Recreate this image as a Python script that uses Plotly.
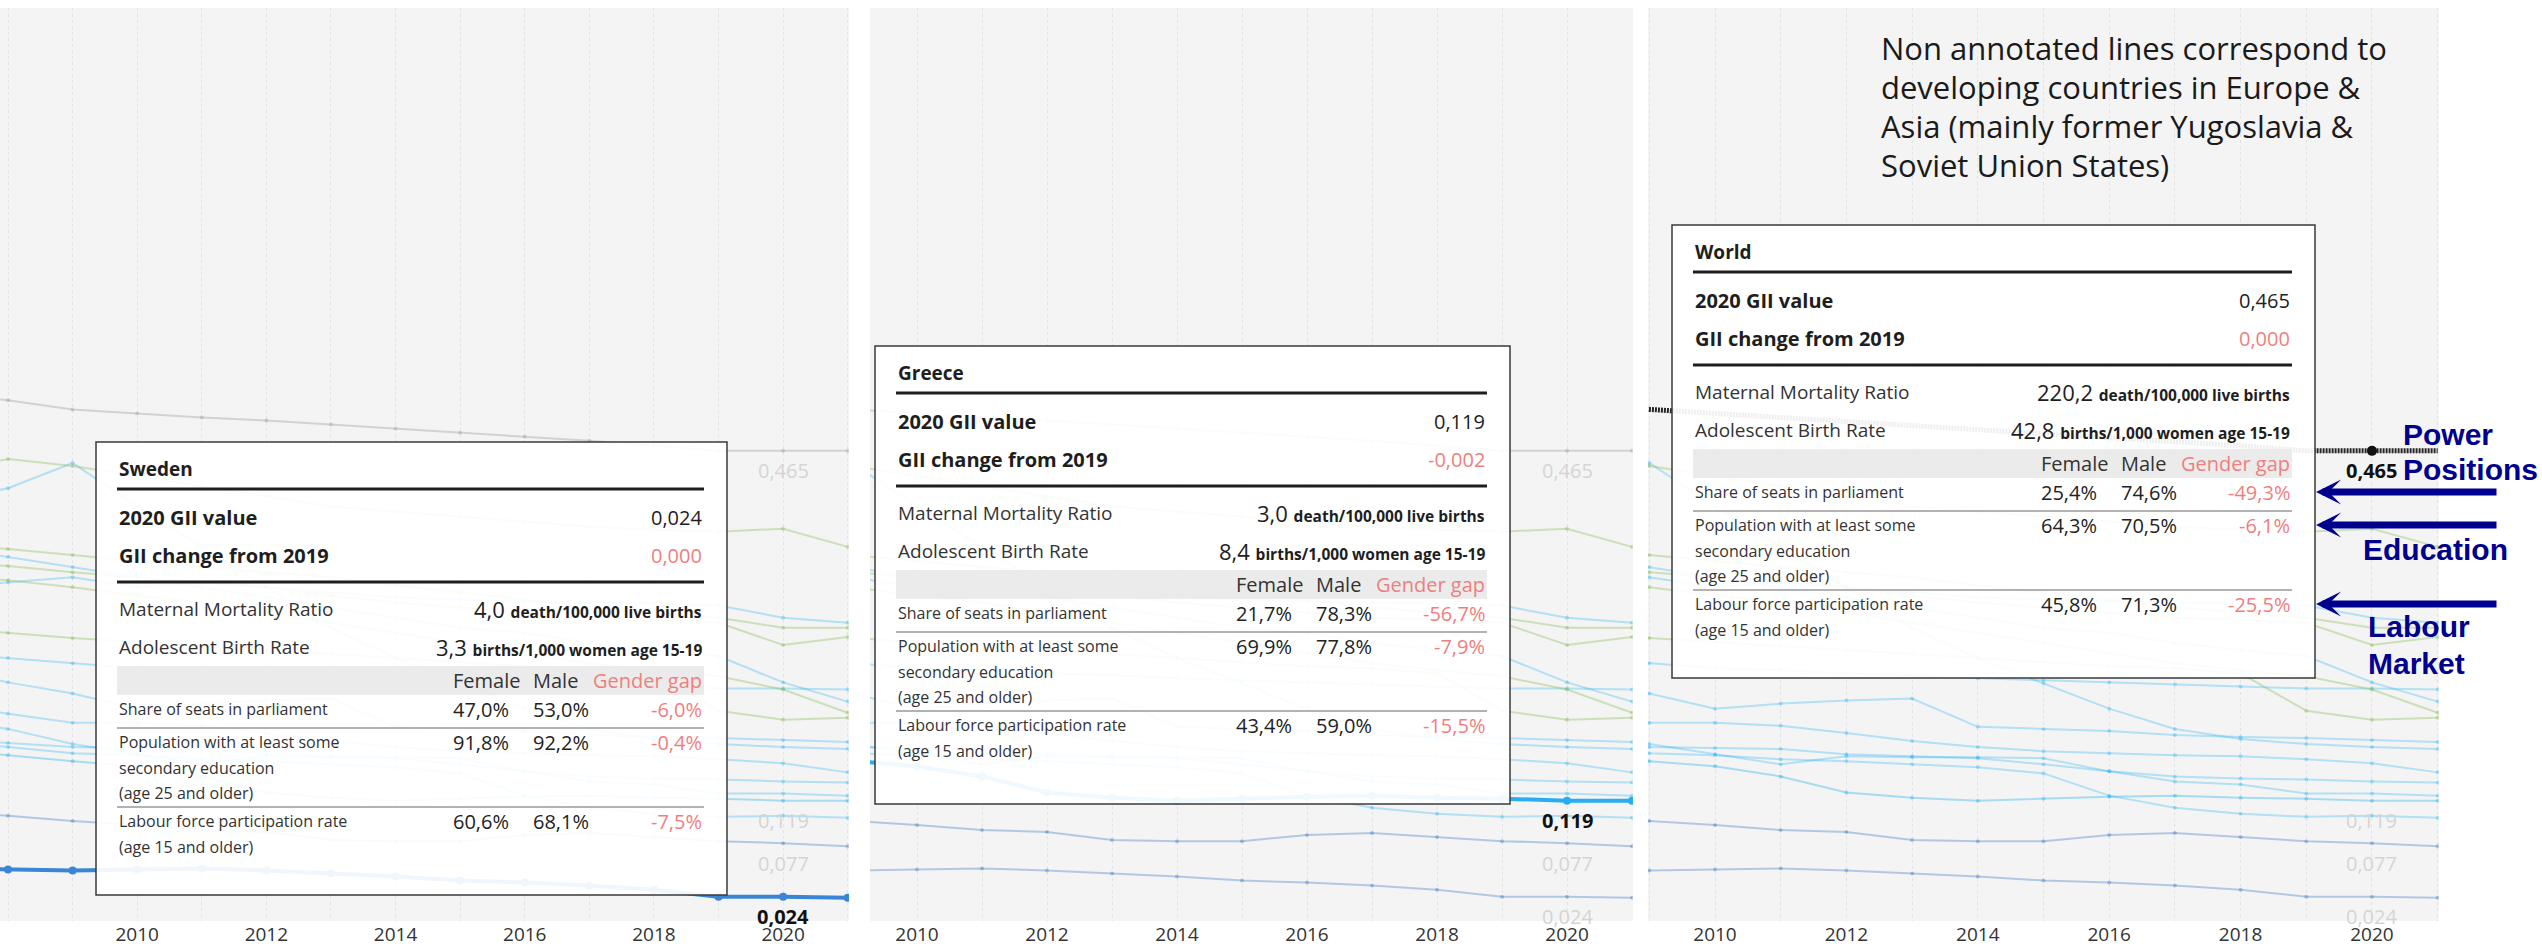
import plotly.graph_objects as go

W, H = 2542, 947
FONT = "Open Sans"
RED = "#ef7f7f"
NAVY = "#00008f"

# ---- data -------------------------------------------------------------
years = list(range(2007, 2022))

world = [0.522, 0.515, 0.506, 0.502, 0.498, 0.495, 0.491, 0.487, 0.483, 0.479, 0.475, 0.470, 0.465, 0.465, 0.465]
sweden = [0.052, 0.051, 0.050, 0.051, 0.052, 0.050, 0.047, 0.044, 0.040, 0.038, 0.035, 0.031, 0.024, 0.024, 0.023]
greece = [0.170, 0.164, 0.158, 0.153, 0.143, 0.127, 0.122, 0.119, 0.121, 0.123, 0.124, 0.122, 0.121, 0.119, 0.119]
other_077 = [0.108, 0.104, 0.099, 0.095, 0.090, 0.088, 0.080, 0.079, 0.079, 0.085, 0.087, 0.083, 0.079, 0.077, 0.074]

blue_1 = [0.178, 0.172, 0.166, 0.164, 0.160, 0.158, 0.155, 0.152, 0.146, 0.124, 0.112, 0.106, 0.103, 0.104, 0.102]
blue_2 = [0.200, 0.190, 0.175, 0.165, 0.155, 0.163, 0.162, 0.162, 0.161, 0.148, 0.138, 0.135, 0.126, 0.126, 0.124]
blue_3 = [0.180, 0.176, 0.172, 0.171, 0.170, 0.165, 0.163, 0.161, 0.155, 0.148, 0.143, 0.141, 0.140, 0.138, 0.137]
blue_4 = [0.215, 0.205, 0.196, 0.196, 0.193, 0.186, 0.178, 0.172, 0.168, 0.166, 0.164, 0.163, 0.160, 0.156, 0.147]
blue_5 = [0.250, 0.236, 0.225, 0.210, 0.215, 0.218, 0.220, 0.192, 0.190, 0.188, 0.184, 0.182, 0.181, 0.179, 0.177]
blue_6 = [0.265, 0.260, 0.255, 0.250, 0.248, 0.245, 0.243, 0.240, 0.238, 0.236, 0.234, 0.232, 0.230, 0.230, 0.229]
blue_7 = [0.370, 0.360, 0.350, 0.340, 0.330, 0.320, 0.310, 0.300, 0.290, 0.285, 0.275, 0.268, 0.262, 0.236, 0.217]
blue_8 = [0.330, 0.335, 0.340, 0.330, 0.335, 0.330, 0.325, 0.320, 0.318, 0.316, 0.315, 0.314, 0.312, 0.300, 0.295]
blue_9 = [0.415, 0.428, 0.453, 0.410, 0.370, 0.330, 0.290, 0.260, 0.235, 0.210, 0.190, 0.180, 0.175, 0.172, 0.170]

green_1 = [0.445, 0.457, 0.450, 0.440, 0.430, 0.420, 0.410, 0.405, 0.400, 0.395, 0.390, 0.387, 0.385, 0.388, 0.370]
green_2 = [0.372, 0.368, 0.362, 0.356, 0.350, 0.345, 0.340, 0.332, 0.325, 0.318, 0.310, 0.305, 0.300, 0.290, 0.290]
green_3 = [0.356, 0.351, 0.345, 0.340, 0.335, 0.330, 0.322, 0.315, 0.310, 0.305, 0.300, 0.298, 0.295, 0.273, 0.281]
green_4 = [0.342, 0.337, 0.330, 0.322, 0.315, 0.305, 0.295, 0.285, 0.275, 0.265, 0.255, 0.248, 0.242, 0.229, 0.206]
green_5 = [0.290, 0.285, 0.280, 0.276, 0.272, 0.268, 0.264, 0.260, 0.256, 0.252, 0.250, 0.245, 0.208, 0.199, 0.201]

# tooltip values
countries = ["Sweden", "Greece", "World"]
gii_2020 = [0.024, 0.119, 0.465]
gii_change = [0.000, -0.002, 0.000]
maternal_mortality = [4.0, 3.0, 220.2]
adolescent_births = [3.3, 8.4, 42.8]
seats_female = [47.0, 21.7, 25.4]
seats_male = [53.0, 78.3, 74.6]
seats_gap = [-6.0, -56.7, -49.3]
edu_female = [91.8, 69.9, 64.3]
edu_male = [92.2, 77.8, 70.5]
edu_gap = [-0.4, -7.9, -6.1]
labour_female = [60.6, 43.4, 45.8]
labour_male = [68.1, 59.0, 71.3]
labour_gap = [-7.5, -15.5, -25.5]

end_labels = [world, greece, other_077, sweden]   # values labelled at 2020

note_lines = ["Non annotated lines correspond to",
              "developing countries in Europe &",
              "Asia (mainly former Yugoslavia &",
              "Soviet Union States)"]

# ---- styles -------------------------------------------------------------
LIGHT_BLUE = "rgba(3,169,244,0.27)"
GREEN = "rgba(124,179,66,0.32)"
STEEL = "rgba(40,110,190,0.32)"
faded = [(blue_9, LIGHT_BLUE), (blue_8, LIGHT_BLUE), (blue_7, LIGHT_BLUE), (blue_6, LIGHT_BLUE),
         (blue_5, LIGHT_BLUE), (blue_4, LIGHT_BLUE), (blue_3, LIGHT_BLUE), (blue_2, LIGHT_BLUE),
         (blue_1, LIGHT_BLUE),
         (green_1, GREEN), (green_2, GREEN), (green_3, GREEN), (green_4, GREEN), (green_5, GREEN),
         (other_077, STEEL), (greece, "rgba(3,169,244,0.32)"),
         (sweden, STEEL), (world, "rgba(160,160,160,0.4)")]

panels = [  # (highlighted series, colour, dash, x-range, domain in px)
    (sweden, "#3a86d4", "solid", [2007.876, 2021.02], (0, 849)),
    (greece, "#27aef0", "solid", [2009.277, 2021.015], (870, 1633)),
    (world, "#262626", "2px,1px", [2008.98, 2021.02], (1648, 2439)),
]
tooltip_box = [(96, 442, 631, 453), (875, 346, 635, 458), (1672, 225, 643, 453)]

fig = go.Figure()


def fmt(v, d):
    return f"{v:.{d}f}".replace(".", ",")


for p, (hl, col, dash, xr, dom) in enumerate(panels):
    xa = "x" if p == 0 else f"x{p + 1}"
    ya = "y" if p == 0 else f"y{p + 1}"
    for series, c in faded:
        if series is hl:
            continue
        fig.add_trace(go.Scatter(x=years, y=series, mode="lines+markers", xaxis=xa, yaxis=ya,
                                 line=dict(color=c, width=2), marker=dict(color=c, size=4),
                                 hoverinfo="skip"))
    if dash != "solid":
        fig.add_trace(go.Scatter(x=years, y=hl, mode="lines", xaxis=xa, yaxis=ya,
                                 line=dict(color=col, width=5, dash=dash), hoverinfo="skip"))
        fig.add_trace(go.Scatter(x=[years[13]], y=[hl[13]], mode="markers", xaxis=xa, yaxis=ya,
                                 marker=dict(color="#111", size=10), hoverinfo="skip"))
    else:
        fig.add_trace(go.Scatter(x=years, y=hl, mode="lines+markers", xaxis=xa, yaxis=ya,
                                 line=dict(color=col, width=4), marker=dict(color=col, size=8),
                                 hoverinfo="skip"))
    # 2020 value labels
    for s in end_labels:
        strong = s is hl
        fig.add_annotation(x=years[13], y=s[13], xref=xa, yref=ya, yshift=-20, showarrow=False,
                           text=(f"<b>{fmt(s[13], 3)}</b>" if strong else fmt(s[13], 3)),
                           font=dict(family=FONT, size=20, color="#111" if strong else "#d4d4d4"))
    axis_x = dict(domain=[dom[0] / W, dom[1] / W], range=xr, anchor=ya, dtick=2, tick0=2008,
                  showgrid=True, gridcolor="#e3e3e3", griddash="dot", gridwidth=1,
                  minor=dict(dtick=1, showgrid=True, gridcolor="#e3e3e3", griddash="dot"),
                  zeroline=False, showline=False, ticks="",
                  tickfont=dict(family=FONT, size=19, color="#333"), fixedrange=True)
    axis_y = dict(domain=[26 / H, 1 - 8 / H], range=[0, 0.903], anchor=xa, visible=False,
                  showgrid=False, zeroline=False, fixedrange=True)
    fig.layout["xaxis" if p == 0 else f"xaxis{p + 1}"] = axis_x
    fig.layout["yaxis" if p == 0 else f"yaxis{p + 1}"] = axis_y


def txt(x, y, s, size, color="#1e1e1e", anchor="left", family=FONT):
    fig.add_annotation(x=x / W, y=1 - y / H, xref="paper", yref="paper", text=s, showarrow=False,
                       xanchor=anchor, yanchor="middle", font=dict(family=family, size=size, color=color))


def hline(y, x0, x1, width, color):
    fig.add_shape(type="line", xref="paper", yref="paper", x0=x0 / W, x1=x1 / W,
                  y0=1 - y / H, y1=1 - y / H, line=dict(color=color, width=width), layer="above")


for i, (left, top, bw, bh) in enumerate(tooltip_box):
    right = left + bw
    l, r = left + 21, right - 23
    fx, mx = right - 276, right - 196
    fig.add_shape(type="rect", xref="paper", yref="paper", x0=left / W, x1=right / W,
                  y0=1 - (top + bh) / H, y1=1 - top / H, fillcolor="rgba(255,255,255,0.93)",
                  line=dict(color="#3a3a3a", width=1.5), layer="above")
    txt(l, top + 27, f"<b>{countries[i]}</b>", 19)
    hline(top + 47, l, r, 3, "#1e1e1e")
    txt(l, top + 75, "<b>2020 GII value</b>", 20)
    txt(r, top + 75, fmt(gii_2020[i], 3), 20, anchor="right")
    txt(l, top + 113, "<b>GII change from 2019</b>", 20)
    txt(r, top + 113, fmt(gii_change[i], 3), 20, color=RED, anchor="right")
    hline(top + 140, l, r, 3, "#1e1e1e")
    txt(l, top + 167, "Maternal Mortality Ratio", 19, "#333")
    txt(r, top + 167, f"{fmt(maternal_mortality[i], 1)} <span style='font-size:15.5px'><b>death/100,000 live births</b></span>",
        22, anchor="right")
    txt(l, top + 205, "Adolescent Birth Rate", 19, "#333")
    txt(r, top + 205, f"{fmt(adolescent_births[i], 1)} <span style='font-size:15.5px'><b>births/1,000 women age 15-19</b></span>",
        22, anchor="right")
    fig.add_shape(type="rect", xref="paper", yref="paper", x0=l / W, x1=r / W,
                  y0=1 - (top + 253) / H, y1=1 - (top + 224) / H, fillcolor="#ebebeb",
                  line=dict(width=0), layer="above")
    txt(fx, top + 238, "Female", 20, "#333")
    txt(mx, top + 238, "Male", 20, "#333")
    txt(r, top + 238, "Gender gap", 20, RED, anchor="right")
    rows = [(["Share of seats in parliament"], seats_female, seats_male, seats_gap, top + 267),
            (["Population with at least some", "secondary education", "(age 25 and older)"],
             edu_female, edu_male, edu_gap, top + 300),
            (["Labour force participation rate", "(age 15 and older)"],
             labour_female, labour_male, labour_gap, top + 379)]
    for k, (labels, fem, mal, gap, y0) in enumerate(rows):
        for j, lab in enumerate(labels):
            txt(l, y0 + j * 25.5, lab, 16, "#333")
        txt(fx, y0, fmt(fem[i], 1) + "%", 20, "#222")
        txt(mx, y0, fmt(mal[i], 1) + "%", 20, "#222")
        txt(r, y0, fmt(gap[i], 1) + "%", 20, RED, anchor="right")
        if k > 0:
            hline(y0 - 14, l, r, 1.2, "#666")

# note at the top right
for j, line in enumerate(note_lines):
    txt(1879, 48 + j * 39, line, 31, "#1a1a1a")

# arrows pointing at the World tooltip rows
w_left, w_top, w_w, w_h = tooltip_box[2]
for row_y in [w_top + 267, w_top + 300, w_top + 379]:
    fig.add_annotation(x=(w_left + w_w + 1) / W, y=1 - row_y / H, xref="paper", yref="paper",
                       ax=182, ay=0, text="", showarrow=True, arrowhead=3, arrowsize=0.6,
                       arrowwidth=7, arrowcolor=NAVY)

for s, x, y in [("Power", 2401, 434), ("Positions", 2401, 469), ("Education", 2361, 549),
                ("Labour", 2366, 626), ("Market", 2366, 663)]:
    txt(x, y, f"<b>{s}</b>", 30, NAVY, family="Liberation Sans")

fig.update_layout(width=W, height=H, margin=dict(l=0, r=0, t=0, b=0),
                  paper_bgcolor="white", plot_bgcolor="#f4f4f4", showlegend=False)

fig.write_html("out.html", config={"displayModeBar": False},
               post_script="document.body.style.margin='0';")
